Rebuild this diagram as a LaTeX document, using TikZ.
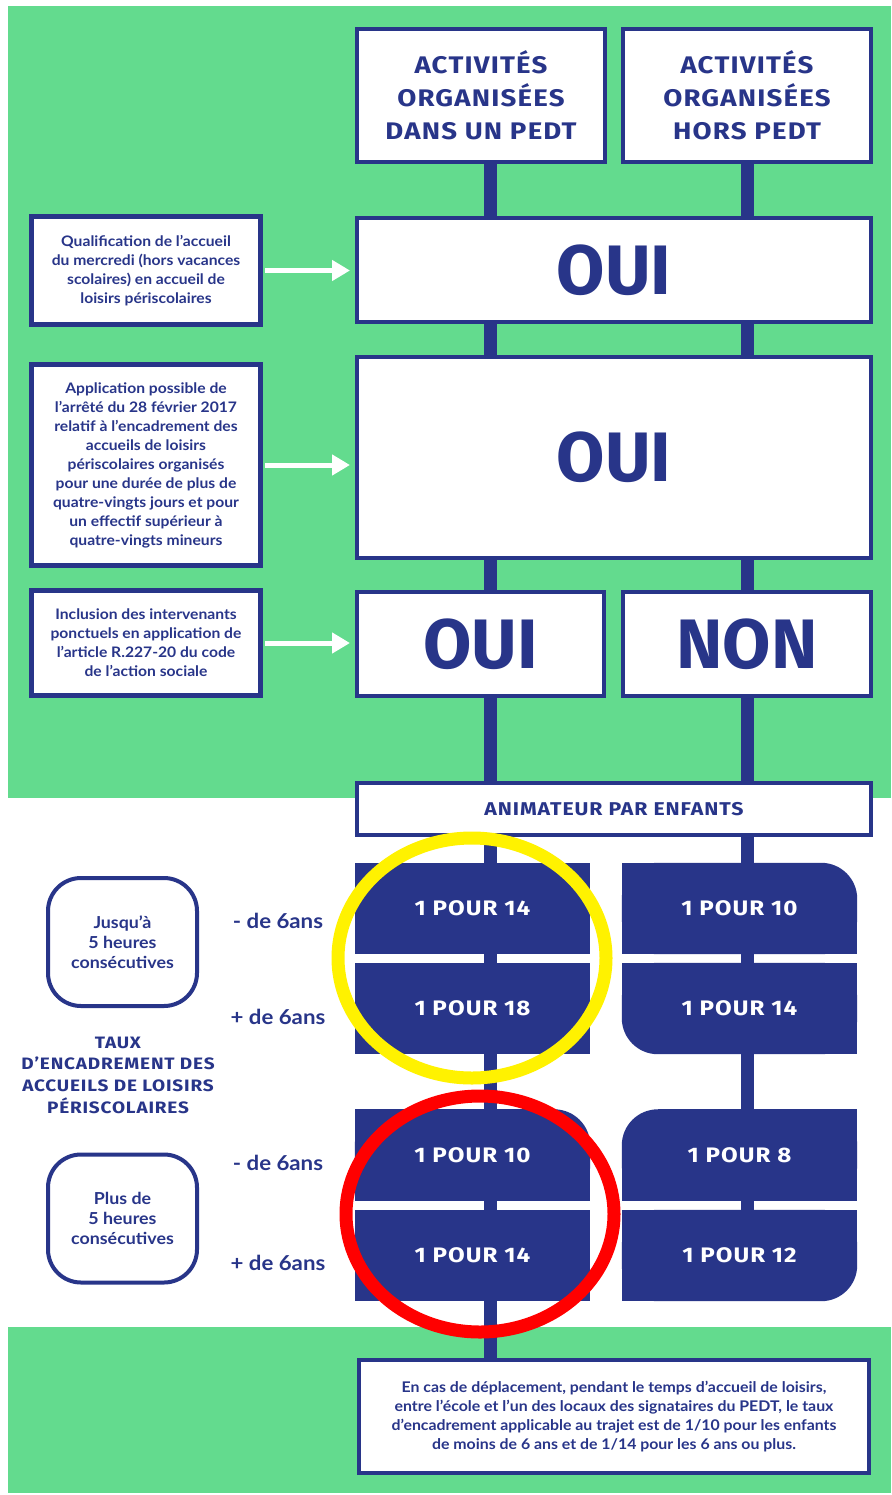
\documentclass[tikz,border=0pt]{standalone}
\usepackage{fontspec}
\setmainfont{Lato}[FakeStretch=1.08]
\newfontfamily\headfont{Fira Sans}
\newfontfamily\capfont{Fira Sans}[FakeStretch=1.15, LetterSpace=5]
\usetikzlibrary{positioning,backgrounds,arrows.meta}
\definecolor{navy}{RGB}{40,53,137}
\definecolor{leaf}{RGB}{99,219,142}
\pgfdeclarelayer{back}
\pgfsetlayers{background,back,main}
\tikzset{
  box/.style={draw=navy, line width=4pt, fill=white, inner sep=0pt, align=center, text=navy},
  headbox/.style={box, minimum width=248pt, minimum height=133pt, font=\capfont\bfseries\fontsize{24}{33}\selectfont},
  bigbox/.style={box, font=\headfont\bfseries\fontsize{70}{70}\selectfont},
  sidebox/.style={box, line width=5pt, minimum width=229pt, font=\bfseries\fontsize{14.5}{19}\selectfont},
  ratebox/.style={fill=navy, minimum width=235pt, minimum height=91pt, inner sep=0pt, text=white, font=\capfont\bfseries\fontsize{21}{21}\selectfont},
  hourbox/.style={box, rounded corners=33pt, minimum width=149pt, minimum height=128pt, font=\bfseries\fontsize{16.5}{20}\selectfont},
  agelabel/.style={text=navy, font=\bfseries\fontsize{20.6}{20.6}\selectfont},
  link/.style={draw=navy, line width=13pt},
  pointer/.style={draw=white, line width=5pt, -{Triangle[length=18pt,width=20pt]}, shorten >=5pt, shorten <=2pt},
  ring/.style={line width=13pt}
}
% one rounded corner on a rate box: node, corner, opposite corner, x and y shift
\newcommand{\roundone}[5]{%
  \begin{pgfonlayer}{back}
    \fill[navy, rounded corners=36pt] (#1.#3) rectangle (#1.#2);
    \fill[navy] (#1.#3) rectangle ([xshift=#4]#1.#2);
    \fill[navy] (#1.#3) rectangle ([yshift=#5]#1.#2);
  \end{pgfonlayer}}
\begin{document}
\begin{tikzpicture}[x=1pt,y=-1pt]
  \useasboundingbox (0,0) rectangle (891,1495);
  \begin{pgfonlayer}{background}
    \fill[white] (0,0) rectangle (891,1495);
    \fill[leaf] (8,6) rectangle (891,798);
    \fill[leaf] (8,1327) rectangle (891,1493);
  \end{pgfonlayer}

  % columns
  \node[headbox] (act1) at (481,95.5) {ACTIVITÉS\\ORGANISÉES\\DANS UN PEDT};
  \node[headbox] (act2) at (747,95.5) {ACTIVITÉS\\ORGANISÉES\\HORS PEDT};
  \node[bigbox, minimum width=514pt, minimum height=104pt] (oui1) at (614,270) {OUI};
  \node[bigbox, minimum width=514pt, minimum height=201pt] (oui2) at (614,457.5) {OUI};
  \node[bigbox, minimum width=247pt, minimum height=104pt] (oui3) at (480.5,644) {OUI};
  \node[bigbox, minimum width=248pt, minimum height=104pt] (non) at (747,644) {NON};
  \node[box, minimum width=514pt, minimum height=52pt, font=\capfont\bfseries\fontsize{18.5}{18.5}\selectfont] (anim) at (614,809) {ANIMATEUR PAR ENFANTS};

  % questions
  \node[sidebox, minimum height=108pt] (side1) at (146,270.5)
    {Qualification de l’accueil\\du mercredi (hors vacances\\scolaires) en accueil de\\loisirs périscolaires};
  \node[sidebox, minimum height=201pt] (side2) at (146,465)
    {Application possible de\\l’arrêté du 28 février 2017\\relatif à l’encadrement des\\accueils de loisirs\\périscolaires organisés\\pour une durée de plus de\\quatre-vingts jours et pour\\un effectif supérieur à\\quatre-vingts mineurs};
  \node[sidebox, minimum height=105pt] (side3) at (146,643)
    {Inclusion des intervenants\\ponctuels en application de\\l’article R.227-20 du code\\de l’action sociale};
  \draw[pointer] (side1.east) -- (oui1.west |- side1.east);
  \draw[pointer] (side2.east) -- (oui2.west |- side2.east);
  \draw[pointer] (side3.east) -- (oui3.west |- side3.east);

  % rates
  \node[ratebox] (ra1) at (472.5,908.5) {1 POUR 14};
  \node[ratebox] (ra2) at (472.5,1008.5) {1 POUR 18};
  \node[ratebox, fill=none] (ra3) at (472.5,1155) {1 POUR 10};
  \node[ratebox] (ra4) at (472.5,1255.5) {1 POUR 14};
  \node[ratebox, fill=none] (rb1) at (739.5,908.5) {1 POUR 10};
  \node[ratebox, fill=none] (rb2) at (739.5,1008.5) {1 POUR 14};
  \node[ratebox, fill=none] (rb3) at (739.5,1155) {1 POUR 8};
  \node[ratebox, fill=none] (rb4) at (739.5,1255.5) {1 POUR 12};
  \roundone{ra3}{north east}{south west}{-36pt}{-36pt}
  \roundone{rb1}{north east}{south west}{-36pt}{-36pt}
  \roundone{rb2}{south west}{north east}{36pt}{36pt}
  \roundone{rb3}{north west}{south east}{36pt}{-36pt}
  \roundone{rb4}{south east}{north west}{-36pt}{36pt}

  \node[hourbox] (hour1) at (122.5,942) {Jusqu’à\\5 heures\\consécutives};
  \node[hourbox] (hour2) at (122.5,1218.5) {Plus de\\5 heures\\consécutives};
  \node[agelabel] (less1) at (278,921) {- de 6ans};
  \node[agelabel] (more1) at (278,1017) {+ de 6ans};
  \node[agelabel] (less2) at (278,1163) {- de 6ans};
  \node[agelabel] (more2) at (278,1263) {+ de 6ans};
  \node[text=navy, align=center, font=\capfont\bfseries\fontsize{16.5}{21.7}\selectfont] (taux) at (118,1075)
    {TAUX\\D’ENCADREMENT DES\\ACCUEILS DE LOISIRS\\PÉRISCOLAIRES};

  \node[box, minimum width=510pt, minimum height=113pt, font=\bfseries\fontsize{14.7}{19}\selectfont] (note) at (614,1416.5)
    {En cas de déplacement, pendant le temps d’accueil de loisirs,\\entre l’école et l’un des locaux des signataires du PEDT, le taux\\d’encadrement applicable au trajet est de 1/10 pour les enfants\\de moins de 6 ans et de 1/14 pour les 6 ans ou plus.};

  % links behind the boxes
  \coordinate (colA) at (490,0);
  \coordinate (colB) at (747,0);
  \begin{pgfonlayer}{back}
    \draw[link] (act1.south -| colA) -- (note.north -| colA);
    \draw[link] (act2.south -| colB) -- (rb4.south -| colB);
  \end{pgfonlayer}

  % highlights
  \draw[ring, yellow] (472,958) ellipse (134 and 120);
  \draw[ring, red] (480,1214) ellipse (134 and 118);
\end{tikzpicture}
\end{document}
